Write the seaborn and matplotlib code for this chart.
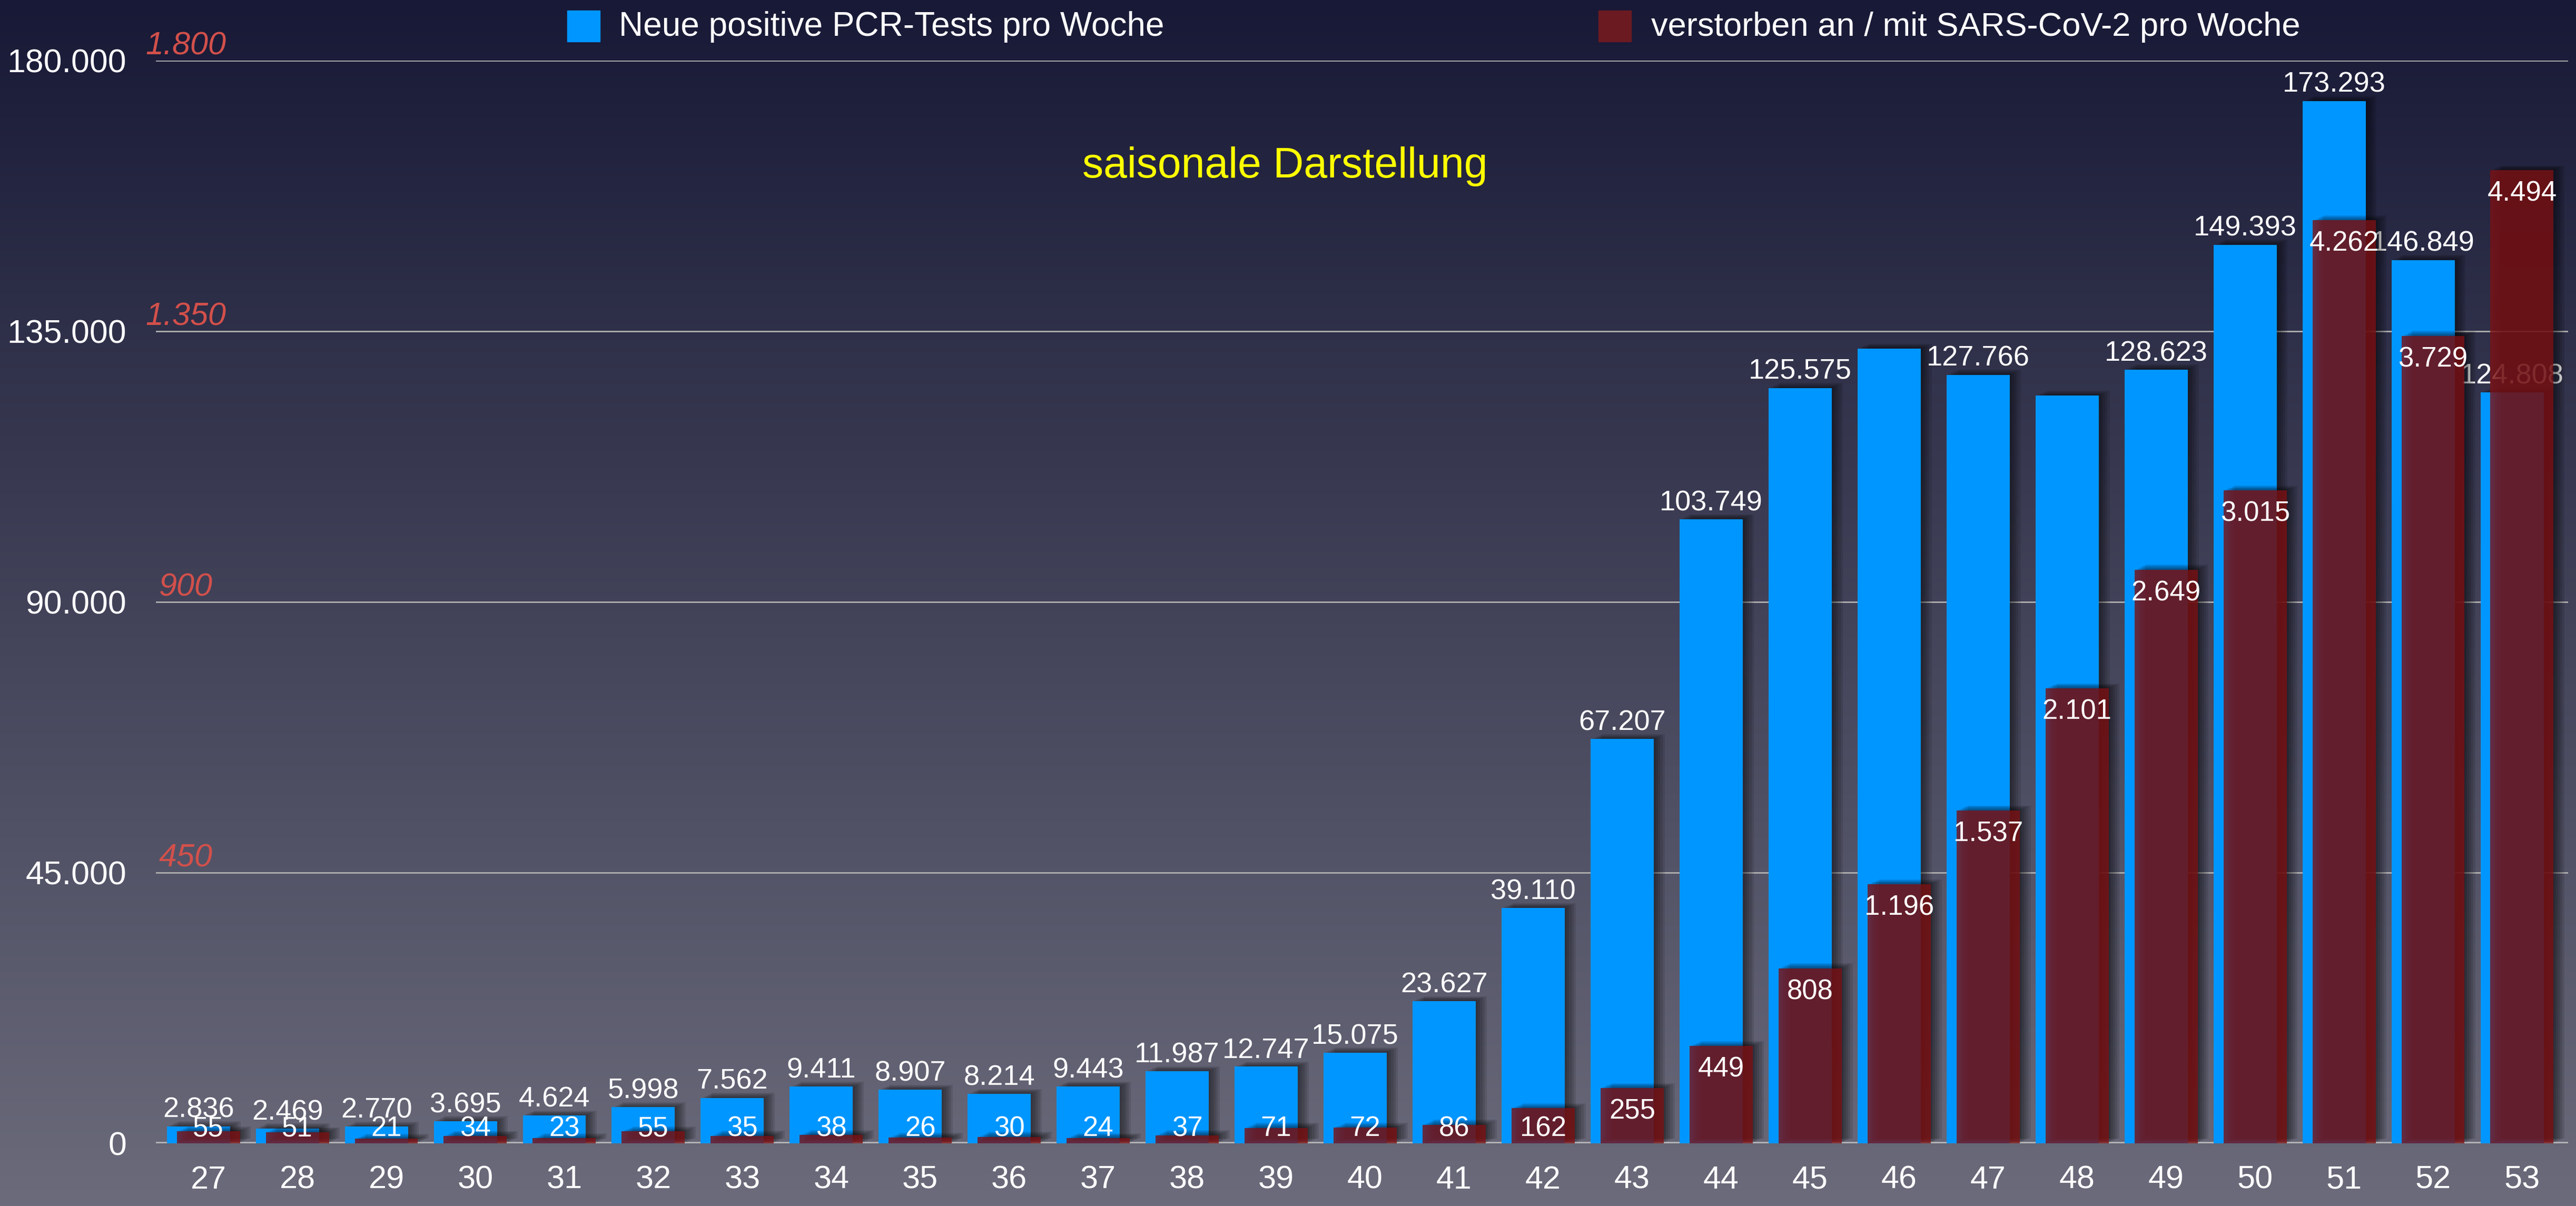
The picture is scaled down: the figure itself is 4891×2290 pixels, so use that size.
import numpy as np
import pandas as pd
import matplotlib
matplotlib.use("Agg")
import matplotlib.pyplot as plt
import matplotlib.patheffects as pe
import matplotlib.transforms as mtransforms
from matplotlib.patches import Rectangle
import seaborn as sns

# --- Daten: Kalenderwochen 27-53 ---
weeks = [27, 28, 29, 30, 31, 32, 33, 34, 35, 36, 37, 38, 39, 40,
         41, 42, 43, 44, 45, 46, 47, 48, 49, 50, 51, 52, 53]
pcr_tests = [2836, 2469, 2770, 3695, 4624, 5998, 7562, 9411, 8907, 8214,
             9443, 11987, 12747, 15075, 23627, 39110, 67207, 103749, 125575,
             132100, 127766, 124300, 128623, 149393, 173293, 146849, 124808]
deaths = [55, 51, 21, 34, 23, 55, 35, 38, 26, 30, 24, 37, 71, 72, 86,
          162, 255, 449, 808, 1196, 1537, 2101, 2649, 3015, 4262, 3729, 4494]
# Wochen ohne Beschriftung im Original
hidden_pcr_labels = [46, 48]

left_ticks = [0, 45000, 90000, 135000, 180000]
red_tick_labels = ["450", "900", "1.350", "1.800"]
pcr_max = 180000
deaths_max = 5000

legend_pcr = "Neue positive PCR-Tests pro Woche"
legend_deaths = "verstorben an / mit SARS-CoV-2 pro Woche"
subtitle = "saisonale Darstellung"

df = pd.DataFrame({"Woche": weeks, "PCR": pcr_tests, "Tote": deaths})
df["x_pcr"] = df["Woche"] - 0.112
df["x_tote"] = df["Woche"]


def de(n):
    # deutsche Tausendertrennung
    return f"{n:,.0f}".replace(",", ".")


BLUE = "#0096FF"
RED = "#7C1114"

sns.set_style("white")
plt.rcParams["font.family"] = ["Liberation Sans", "DejaVu Sans"]

fig = plt.figure(figsize=(48.91, 22.90), dpi=100)

# Hintergrund-Verlauf
bg = fig.add_axes([0, 0, 1, 1], zorder=-10)
top_c = np.array([24, 25, 54]) / 255
bot_c = np.array([107, 107, 123]) / 255
t = np.linspace(0, 1, 512)[:, None]
grad = top_c + (bot_c - top_c) * t
bg.imshow(grad[:, None, :], aspect="auto", extent=[0, 1, 0, 1])
bg.axis("off")

ax = fig.add_axes([0.0605, 0.052, 0.9365, 0.8978])
ax.set_facecolor("none")

shadow = [pe.SimplePatchShadow(offset=(o, o * 0.45), shadow_rgbFace="black", alpha=0.11)
          for o in (3, 6, 9, 12, 15)] + [pe.Normal()]

# blaue Balken (PCR)
sns.barplot(data=df, x="x_pcr", y="PCR", native_scale=True, width=0.71,
            color=BLUE, saturation=1, linewidth=0, ax=ax, zorder=2)
for p in ax.patches:
    p.set_path_effects(shadow)

for _, r in df.iterrows():
    if r["Woche"] in hidden_pcr_labels:
        continue
    ax.annotate(de(r["PCR"]), (r["x_pcr"], r["PCR"]), xytext=(0, 12),
                textcoords="offset points", ha="center", va="baseline",
                color="white", fontsize=39, zorder=3)

ax.set_ylim(0, pcr_max)
ax.set_yticks(left_ticks)
ax.set_yticklabels([de(v) for v in left_ticks])
ax.yaxis.grid(True, color="#B0B0B0", linewidth=2)
ax.set_axisbelow(True)
ax.axhline(0, color="#B5B5B5", linewidth=4, zorder=1.5)

# rote Achsenbeschriftung (kursiv) links neben den Gitterlinien
blend = mtransforms.blended_transform_factory(ax.transAxes, ax.transData)
for lbl, yv in zip(red_tick_labels, left_ticks[1:]):
    ax.annotate(lbl, (0.0124, yv), xycoords=blend, xytext=(0, 8),
                textcoords="offset points", ha="center", va="baseline",
                color="#D2504B", style="italic", fontsize=44)

# rote Balken (Verstorbene) auf zweiter Achse
ax2 = ax.twinx()
ax2.set_facecolor("none")
sns.barplot(data=df, x="x_tote", y="Tote", native_scale=True, width=0.71,
            color=RED, alpha=0.8, saturation=1, linewidth=0, ax=ax2, zorder=2)
for p in ax2.patches:
    p.set_path_effects(shadow)

for _, r in df.iterrows():
    ax2.annotate(de(r["Tote"]), (r["x_tote"], max(r["Tote"], 175)), xytext=(0, -14),
                 textcoords="offset points", ha="center", va="top",
                 color="white", fontsize=38, zorder=3)

ax2.set_ylim(0, deaths_max)
ax2.set_yticks([])

for a in (ax, ax2):
    a.set_xlabel("")
    a.set_ylabel("")
    for s in a.spines.values():
        s.set_visible(False)

ax.set_xlim(26.41, 53.52)
ax.set_xticks(weeks)
ax.set_xticklabels([str(w) for w in weeks])
ax.tick_params(axis="y", colors="white", labelsize=45, length=0, pad=40)
ax.tick_params(axis="x", colors="white", labelsize=44, length=0, pad=30)

# Legende
fig.patches.append(Rectangle((0.2202, 0.9655), 0.01268, 0.02576,
                             transform=fig.transFigure, color=BLUE))
fig.text(0.2402, 0.9777, legend_pcr, color="white", fontsize=46, ha="left", va="center")
fig.patches.append(Rectangle((0.6205, 0.9655), 0.01268, 0.02576,
                             transform=fig.transFigure, color="#6B1A22"))
fig.text(0.641, 0.9777, legend_deaths, color="white", fontsize=45.5, ha="left", va="center")

fig.text(0.4988, 0.862, subtitle, color="#FFFF00", fontsize=58, ha="center", va="center")

fig.savefig("out.png", dpi=100)
